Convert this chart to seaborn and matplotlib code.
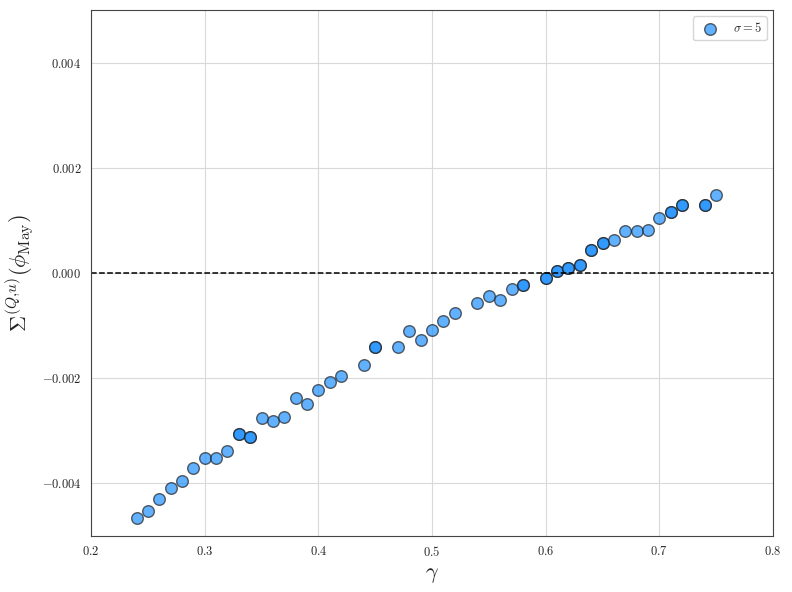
import matplotlib
matplotlib.use("Agg")
import matplotlib.pyplot as plt
import pandas as pd
import seaborn as sns

# gamma values (repeated values are overlapping points drawn twice)
gamma = [0.24, 0.25, 0.26, 0.27, 0.28, 0.29, 0.30, 0.31, 0.32, 0.33, 0.33,
         0.34, 0.34, 0.35, 0.36, 0.37, 0.38, 0.39, 0.40, 0.41, 0.42, 0.44,
         0.45, 0.45, 0.47, 0.48, 0.49, 0.50, 0.51, 0.52, 0.54, 0.55, 0.56,
         0.57, 0.58, 0.58, 0.60, 0.60, 0.61, 0.61, 0.62, 0.62, 0.63, 0.63,
         0.64, 0.64, 0.65, 0.65, 0.66, 0.67, 0.68, 0.69, 0.70, 0.71, 0.71,
         0.72, 0.72, 0.74, 0.74, 0.75]
sigma_val = [-0.004667, -0.004533, -0.004305, -0.004095, -0.003962, -0.003714,
             -0.003524, -0.003524, -0.003390, -0.003067, -0.003067, -0.003124,
             -0.003124, -0.002762, -0.002819, -0.002743, -0.002381, -0.002495,
             -0.002229, -0.002076, -0.001962, -0.001752, -0.001410, -0.001410,
             -0.001410, -0.001105, -0.001276, -0.001086, -0.000914, -0.000762,
             -0.000571, -0.000438, -0.000514, -0.000305, -0.000229, -0.000229,
             -0.000095, -0.000095, 0.000038, 0.000038, 0.000095, 0.000095,
             0.000152, 0.000152, 0.000438, 0.000438, 0.000571, 0.000571,
             0.000629, 0.000800, 0.000800, 0.000819, 0.001048, 0.001162,
             0.001162, 0.001295, 0.001295, 0.001295, 0.001295, 0.001486]

df = pd.DataFrame({"gamma": gamma, "sigma": sigma_val})

sns.set_style("whitegrid")
plt.rcParams["font.family"] = "serif"
plt.rcParams["font.serif"] = ["cmr10"]
plt.rcParams["mathtext.fontset"] = "cm"
plt.rcParams["axes.formatter.use_mathtext"] = True

fig = plt.figure(figsize=(7.92, 5.92), dpi=100)
ax = fig.add_axes([0.115, 0.095, 0.861, 0.888])

sns.scatterplot(data=df, x="gamma", y="sigma", ax=ax, s=70, color="#1E90FF",
                alpha=0.7, edgecolor="#222222", linewidth=1.0,
                label=r"$\sigma = 5$")
ax.axhline(0, color="black", linestyle="--", linewidth=1.1)

ax.set_xlim(0.2, 0.8)
ax.set_ylim(-0.005, 0.005)
ax.set_yticks([-0.004, -0.002, 0.0, 0.002, 0.004])
ax.set_xlabel(r"$\gamma$", fontsize=16)
ax.set_ylabel(r"$\Sigma^{(Q{,}u)}(\phi_{\mathrm{May}})$", fontsize=16)
ax.tick_params(labelsize=9)
for sp in ax.spines.values():
    sp.set_color("#444444")
ax.grid(color="#d9d9d9")
ax.legend(loc="upper right", fontsize=9)

fig.savefig("out.png", dpi=100)
